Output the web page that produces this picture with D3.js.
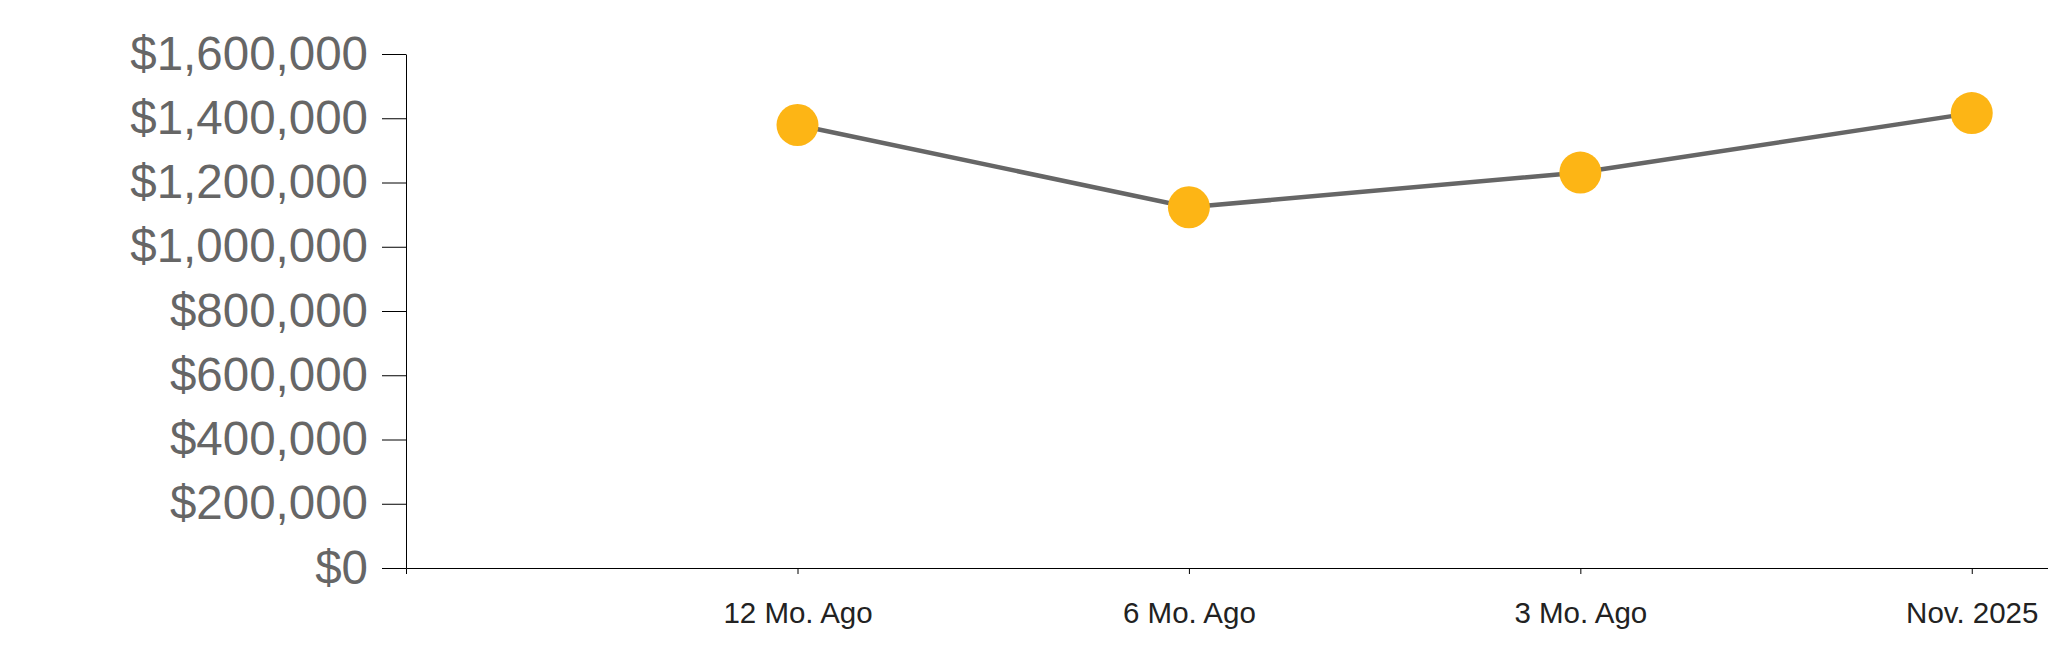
<!DOCTYPE html>
<html>
<head>
<meta charset="utf-8">
<script src="https://cdn.jsdelivr.net/npm/d3@7"></script>
<style>
  html, body { margin: 0; padding: 0; background: #fff; }
  svg { display: block; }
  .yaxis text { font-family: "Liberation Sans", Arial, sans-serif; font-size: 47.5px; fill: #666666; }
  .xaxis text { font-family: "Liberation Sans", Arial, sans-serif; font-size: 29.5px; fill: #222222; }
</style>
</head>
<body>
<svg id="chart" width="2048" height="663"></svg>
<script>
const categories = ["12 Mo. Ago", "6 Mo. Ago", "3 Mo. Ago", "Nov. 2025"];
const values = [1379000, 1123000, 1231000, 1416000];
const yTicks = [0, 200000, 400000, 600000, 800000, 1000000, 1200000, 1400000, 1600000];

const svg = d3.select("#chart");
const mLeft = 406, mRight = 2048, mTop = 54, mBottom = 568;

const x = d3.scalePoint()
  .domain(categories)
  .range([mLeft, mRight])
  .padding(0.5975)
  .align(0.837);

const y = d3.scaleLinear()
  .domain([0, 1600000])
  .range([mBottom, mTop]);

const fmt = v => "$" + d3.format(",")(v);

const yAxis = svg.append("g")
  .attr("class", "yaxis")
  .attr("transform", `translate(${mLeft},0)`)
  .call(d3.axisLeft(y).tickValues(yTicks).tickFormat(fmt).tickSize(24).tickSizeOuter(0).tickPadding(14));
yAxis.select(".domain").attr("stroke", "#000");
yAxis.selectAll(".tick line").attr("stroke", "#000");

const xAxis = svg.append("g")
  .attr("class", "xaxis")
  .attr("transform", `translate(0,${mBottom})`)
  .call(d3.axisBottom(x).tickSize(6).tickSizeOuter(6).tickPadding(28));
xAxis.select(".domain").attr("stroke", "#000");
xAxis.selectAll(".tick line").attr("stroke", "#000");

const line = d3.line()
  .x((d, i) => x(categories[i]))
  .y(d => y(d));

svg.append("path")
  .datum(values)
  .attr("fill", "none")
  .attr("stroke", "#666666")
  .attr("stroke-width", 4.5)
  .attr("d", line);

svg.selectAll("circle.pt")
  .data(values)
  .join("circle")
  .attr("class", "pt")
  .attr("cx", (d, i) => x(categories[i]))
  .attr("cy", d => y(d))
  .attr("r", 21)
  .attr("fill", "#FDB515");
</script>
</body>
</html>
